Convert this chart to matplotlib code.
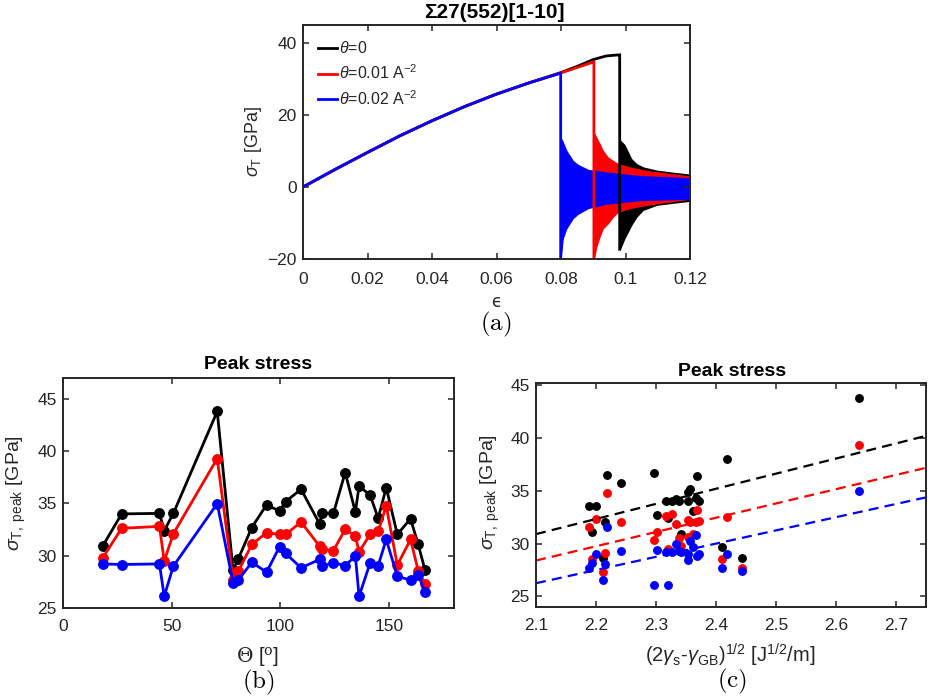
import numpy as np
import matplotlib
matplotlib.use("Agg")
import matplotlib.pyplot as plt

plt.rcParams['font.family'] = ['Liberation Sans', 'DejaVu Sans']
plt.rcParams['mathtext.fontset'] = 'custom'
plt.rcParams['mathtext.rm'] = 'Liberation Sans'
plt.rcParams['mathtext.it'] = 'Liberation Sans:italic'
plt.rcParams['mathtext.bf'] = 'Liberation Sans:bold'

# ---------------- (a) stress-strain curves ----------------
eps_rise_black = [0, 0.01, 0.02, 0.03, 0.04, 0.05, 0.06, 0.07, 0.08, 0.085, 0.09, 0.094, 0.0978]
sig_rise_black = [0, 4.9, 9.6, 14.2, 18.4, 22.3, 25.8, 28.9, 31.8, 33.5, 35.4, 36.4, 36.7]
eps_rise_red = [0, 0.01, 0.02, 0.03, 0.04, 0.05, 0.06, 0.07, 0.08, 0.085, 0.0900]
sig_rise_red = [0, 4.9, 9.6, 14.2, 18.4, 22.3, 25.8, 28.9, 31.7, 33.2, 34.7]
eps_rise_blue = [0, 0.01, 0.02, 0.03, 0.04, 0.05, 0.06, 0.07, 0.0798]
sig_rise_blue = [0, 4.9, 9.6, 14.2, 18.4, 22.3, 25.8, 28.9, 31.6]

eps_fail = {'black': 0.0982, 'red': 0.0902, 'blue': 0.0799}
sig_drop = {'black': -17.3, 'red': -19.6, 'blue': -21.0}

# oscillation envelopes after failure
env_eps_black = [0.0982, 0.0985, 0.0998, 0.1009, 0.1019, 0.1035, 0.1055, 0.1097, 0.1150, 0.1200]
env_hi_black = [13.5, 13.0, 11.8, 9.8, 7.9, 6.5, 5.6, 4.7, 4.1, 3.6]
env_lo_black = [-17.3, -17.2, -14.4, -12.5, -10.7, -8.4, -6.5, -5.1, -4.5, -4.0]

env_eps_red = [0.0902, 0.0905, 0.0911, 0.0921, 0.0931, 0.0947, 0.0962, 0.0978, 0.1014, 0.1066, 0.1200]
env_hi_red = [15.3, 14.9, 13.8, 12.1, 10.2, 8.3, 7.4, 6.5, 5.6, 4.6, 3.1]
env_lo_red = [-19.6, -19.5, -16.7, -13.9, -11.6, -10.2, -8.4, -7.0, -6.0, -5.1, -3.4]

env_eps_blue = [0.0799, 0.0802, 0.0807, 0.0818, 0.0828, 0.0838, 0.0853, 0.0869, 0.0885, 0.0940, 0.1045, 0.1200]
env_hi_blue = [14.0, 13.5, 12.6, 10.2, 8.8, 7.4, 6.3, 5.6, 4.9, 4.2, 3.2, 2.6]
env_lo_blue = [-21.0, -19.0, -14.4, -11.6, -10.2, -8.8, -7.6, -6.8, -6.0, -4.8, -3.8, -3.4]

legend_labels = [r'$\theta$=0', r'$\theta$=0.01 A$^{-2}$', r'$\theta$=0.02 A$^{-2}$']

# ---------------- (b) peak stress vs misorientation ----------------
theta_gb = [18.2, 27.0, 44.4, 46.6, 50.8, 71.0, 78.3, 80.7, 86.9, 93.7, 99.7, 102.5, 109.6,
            118.1, 119.3, 124.5, 129.9, 134.6, 136.3, 141.4, 145.1, 148.8, 153.9, 160.0, 163.5, 166.6]
peak_black = [30.9, 34.0, 34.05, 32.4, 34.05, 43.8, 28.6, 29.7, 32.7, 34.86, 34.28, 35.18, 36.36,
              33.06, 34.06, 34.06, 37.96, 34.18, 36.68, 35.78, 33.58, 36.52, 32.04, 33.54, 31.08, 28.68]
peak_red = [29.77, 32.62, 32.81, 29.5, 32.1, 39.3, 27.7, 28.5, 31.08, 32.2, 32.04, 32.04, 33.22,
            30.92, 30.6, 30.5, 32.52, 31.88, 30.38, 32.04, 32.36, 34.76, 29.1, 31.56, 28.58, 27.3]
peak_blue = [29.22, 29.16, 29.22, 26.12, 29.0, 34.98, 27.4, 27.66, 29.38, 28.42, 30.86, 30.22, 28.84,
             29.64, 29.0, 29.32, 29.06, 29.96, 26.12, 29.32, 29.06, 31.56, 28.04, 27.66, 28.2, 26.54]

# ---------------- (c) peak stress vs energy parameter ----------------
energy_sqrt = [2.341, 2.317, 2.326, 2.320, 2.371, 2.638, 2.443, 2.410, 2.301, 2.353, 2.366, 2.357, 2.368,
               2.361, 2.354, 2.339, 2.418, 2.334, 2.297, 2.242, 2.200, 2.218, 2.215, 2.189, 2.194, 2.211]
fit_slope = {'black': 14.3, 'red': 13.5, 'blue': 12.5}
fit_icpt = {'black': 0.87, 'red': 0.05, 'blue': 0.0}
fit_range = [2.1, 2.75]

colors = {'black': '#000000', 'red': '#ff0000', 'blue': '#0000ff'}
axis_gray = '#262626'

W, H = 931, 698
fig = plt.figure(figsize=(W / 100, H / 100), dpi=100)


def fx(px):
    return px / W


def fy(py):
    return 1 - py / H


def style_axes(ax, xpad=8, ypad=4.5, size=12.5):
    for s in ax.spines.values():
        s.set_linewidth(1.4)
        s.set_color(axis_gray)
    ax.tick_params(direction='in', length=4, width=1.1, top=True, right=True,
                   colors=axis_gray, labelsize=size, labelcolor=axis_gray)
    ax.tick_params(axis='x', pad=xpad)
    ax.tick_params(axis='y', pad=ypad)


# ---- (a)
ax_a = fig.add_axes([fx(303), fy(259), fx(690) - fx(303), fy(25) - fy(259)])
series_a = [
    ('black', eps_rise_black, sig_rise_black, env_eps_black, env_hi_black, env_lo_black),
    ('red', eps_rise_red, sig_rise_red, env_eps_red, env_hi_red, env_lo_red),
    ('blue', eps_rise_blue, sig_rise_blue, env_eps_blue, env_hi_blue, env_lo_blue),
]
handles = []
for key, e, s, ee, eh, el in series_a:
    c = colors[key]
    ax_a.fill_between(ee, el, eh, color=c, lw=0)
    xs = list(e) + [eps_fail[key], eps_fail[key]]
    ys = list(s) + [s[-1], sig_drop[key]]
    h, = ax_a.plot(xs, ys, color=c, lw=2.0, solid_joinstyle='miter')
    handles.append(h)
ax_a.set_xlim(0, 0.12)
ax_a.set_ylim(-20, 45)
ax_a.set_xticks([0, 0.02, 0.04, 0.06, 0.08, 0.1, 0.12])
ax_a.set_xticklabels(['0', '0.02', '0.04', '0.06', '0.08', '0.1', '0.12'])
ax_a.set_yticks([-20, 0, 20, 40])
style_axes(ax_a, xpad=9, size=12.5)
leg = ax_a.legend(handles, legend_labels, loc='upper left', frameon=False, fontsize=11.5,
                  handlelength=1.25, handletextpad=0.1, labelspacing=0.45,
                  borderaxespad=0.2, borderpad=0.2, bbox_to_anchor=(0.021, 0.962))
for t in leg.get_texts():
    t.set_color(axis_gray)

fig.text(fx(494), fy(13), 'Σ27(552)[1-10]', ha='center', va='center',
         fontsize=15, fontweight='bold', color='black')
fig.text(fx(254), fy(142), r'$\sigma_{\rm T}$ [GPa]', ha='center', va='center',
         rotation=90, fontsize=13, color=axis_gray)
fig.text(fx(496), fy(302), 'ϵ', ha='center', va='center', fontsize=12,
         color=axis_gray, family='DejaVu Sans')
fig.text(fx(496), fy(324), r'$\mathrm{(a)}$', ha='center', va='center', fontsize=18,
         math_fontfamily='cm')

# ---- (b)
ax_b = fig.add_axes([fx(63), fy(608), fx(454) - fx(63), fy(378) - fy(608)])
for key, vals in (('black', peak_black), ('red', peak_red), ('blue', peak_blue)):
    ax_b.plot(theta_gb, vals, '-o', color=colors[key], lw=2.0, ms=6.8)
ax_b.set_xlim(0, 180)
ax_b.set_ylim(25, 47)
ax_b.set_xticks([0, 50, 100, 150])
ax_b.set_yticks([25, 30, 35, 40, 45])
style_axes(ax_b)
fig.text(fx(258), fy(365), 'Peak stress', ha='center', va='center', fontsize=14,
         fontweight='bold', color='black')
fig.text(fx(16), fy(493), r'$\sigma_{\rm T,\ peak}$ [GPa]', ha='center', va='center',
         rotation=90, fontsize=14, color=axis_gray)
fig.text(fx(258), fy(657), r'$\Theta$ [$^{\rm o}$]', ha='center', va='center', fontsize=14.5,
         color=axis_gray, math_fontfamily='dejavuserif')
fig.text(fx(258), fy(682), r'$\mathrm{(b)}$', ha='center', va='center', fontsize=18,
         math_fontfamily='cm')

# ---- (c)
ax_c = fig.add_axes([fx(536), fy(607), fx(926) - fx(536), fy(383) - fy(607)])
for key, vals in (('black', peak_black), ('red', peak_red), ('blue', peak_blue)):
    ax_c.plot(energy_sqrt, vals, 'o', color=colors[key], ms=6.4, mew=0)
xfit = np.array(fit_range)
for key in ('black', 'red', 'blue'):
    ln, = ax_c.plot(xfit, fit_slope[key] * xfit + fit_icpt[key], color=colors[key], lw=1.6)
    ln.set_dashes([4.5, 2.8])
ax_c.set_xlim(2.1, 2.75)
ax_c.set_ylim(24, 45.2)
ax_c.set_xticks([2.1, 2.2, 2.3, 2.4, 2.5, 2.6, 2.7])
ax_c.set_yticks([25, 30, 35, 40, 45])
style_axes(ax_c)
fig.text(fx(732), fy(371), 'Peak stress', ha='center', va='center', fontsize=14,
         fontweight='bold', color='black')
fig.text(fx(490), fy(492), r'$\sigma_{\rm T,\ peak}$ [GPa]', ha='center', va='center',
         rotation=90, fontsize=14, color=axis_gray)
fig.text(fx(730), fy(655), r'(2$\gamma_{\rm s}$-$\gamma_{\rm GB}$)$^{1/2}$ [J$^{1/2}$/m]',
         ha='center', va='center', fontsize=14.5, color=axis_gray)
fig.text(fx(732), fy(681), r'$\mathrm{(c)}$', ha='center', va='center', fontsize=18,
         math_fontfamily='cm')

fig.savefig('out.png', dpi=100)
